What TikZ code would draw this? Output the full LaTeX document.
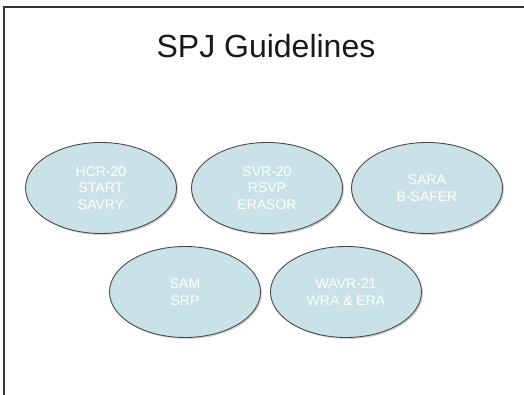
\documentclass[tikz,border=0pt]{standalone}
\usepackage{fontspec}
\setmainfont{Liberation Sans}
\usetikzlibrary{shapes.geometric,shadows}
\definecolor{ellfill}{HTML}{C9E2E8}
\definecolor{ellline}{HTML}{4A4A4A}
\tikzset{
  guide/.style={ellipse, fill=ellfill, draw=ellline, line width=0.9pt,
    minimum width=151pt, minimum height=91pt, inner sep=0pt,
    text=white, font=\fontsize{14}{16.5}\selectfont, align=center,
    drop shadow={shadow xshift=1.5pt, shadow yshift=-1.5pt, fill=black!35, opacity=0.5}},
  frameline/.style={line width=1.6pt, draw=black!80}
}
\begin{document}
\begin{tikzpicture}[x=1pt,y=1pt]
\useasboundingbox (0,0) rectangle (524,395);
\coordinate (tl) at (4,388);
\coordinate (tr) at (524,388);
\coordinate (bl) at (4,0);
\draw[frameline] (bl) -- (tl) -- (tr);
\node[font=\fontsize{32}{36}\selectfont, text=black!90, anchor=base] (title) at (266,337) {SPJ Guidelines};
\node[guide] (hcr) at (101,207) {HCR-20\\START\\SAVRY};
\node[guide] (svr) at (267,207) {SVR-20\\RSVP\\ERASOR};
\node[guide] (sara) at (427,207) {SARA\\B-SAFER};
\node[guide] (sam) at (185,103) {SAM\\SRP};
\node[guide] (wavr) at (346,103) {WAVR-21\\WRA \& ERA};
\end{tikzpicture}
\end{document}
